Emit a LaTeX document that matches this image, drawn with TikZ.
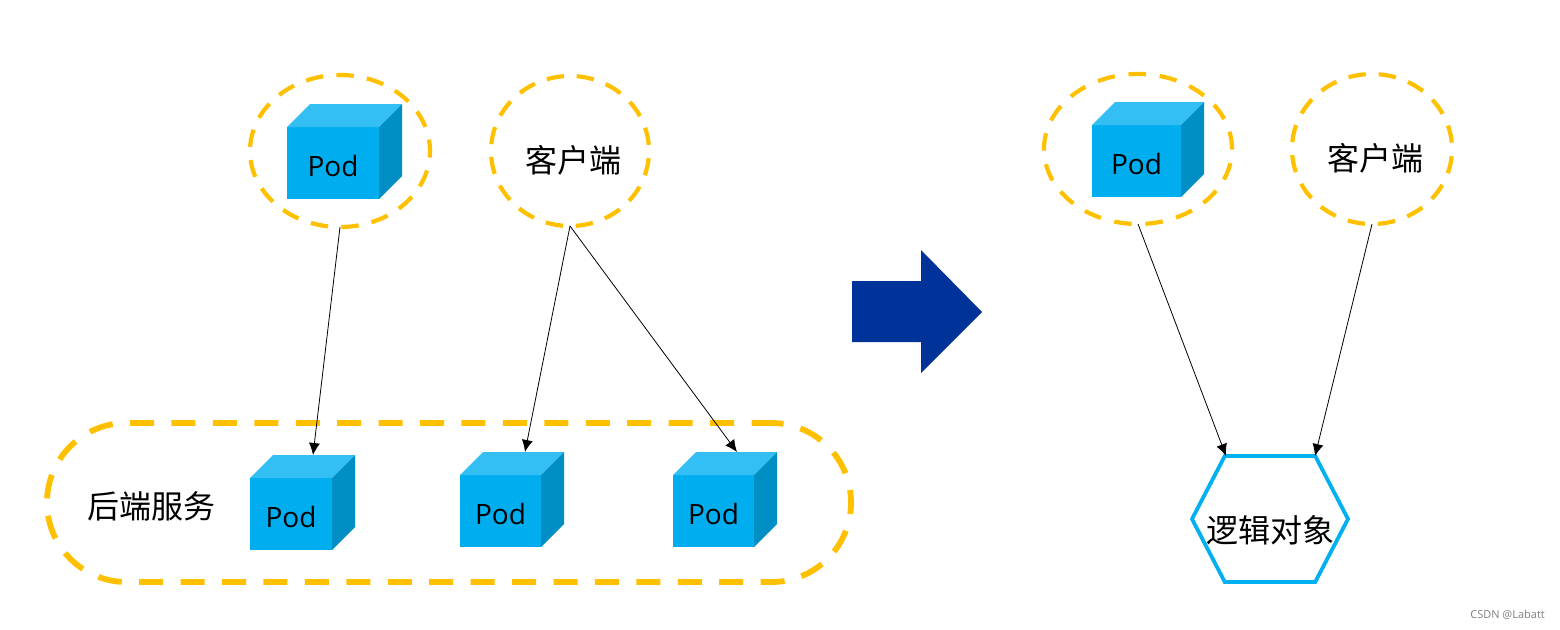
\documentclass[tikz,border=0pt]{standalone}
\usepackage{fontspec}
\setmainfont{Open Sans}
\newfontfamily\cjk{Noto Sans CJK SC}
\usetikzlibrary{arrows.meta,shapes.geometric,shapes.symbols}

\definecolor{podfront}{HTML}{00AEEF}
\definecolor{podtop}{HTML}{33BEF4}
\definecolor{podside}{HTML}{008FC4}
\definecolor{ringcol}{HTML}{FFC000}
\definecolor{bigarrow}{HTML}{003399}
\definecolor{hexcol}{HTML}{00B0F0}

\begin{document}
\begin{tikzpicture}[
    x=1pt, y=-1pt,
    pod/.style={fill=podfront, inner sep=0pt, outer sep=0pt, text height=28pt, font=\fontsize{28}{28}\selectfont},
    ring/.style 2 args={draw=ringcol, ellipse, line width=4.2pt, dash pattern=on 17.5pt off #1pt, dash phase=#2pt, inner sep=0pt, outer sep=0pt},
    band/.style={draw=ringcol, rounded corners=79.5pt, line width=5.8pt, dash pattern=on 24pt off 17.43pt, dash phase=4pt, inner sep=0pt, outer sep=0pt, minimum width=804pt, minimum height=159pt},
    hexa/.style={draw=hexcol, signal, signal from=nowhere, signal to=east and west, signal pointer angle=125, line width=3.8pt, inner sep=0pt, outer sep=0pt, minimum width=156pt, minimum height=126pt},
    zh/.style={font=\cjk\fontsize{32}{32}\selectfont, inner sep=0pt},
    arr/.style={-{Latex[length=12pt,width=11pt]}, line width=0.8pt}
  ]
    \useasboundingbox (0,0) rectangle (1560,629);

    % outer band
    \node[band] (backend) at (449,502.5) {};
    \node[zh] (backendtext) at (151,506) {后端服务};

    % cubes: name/centre x/centre y/width/height
    \foreach \name/\x/\y/\w/\h in {podclient/333/163/92/72, poda/291/514/82/72, podb/500.5/511/81/72, podc/713.5/511/81/72, podright/1136.5/161/89/72} {
      \node[pod, minimum width=\w pt, minimum height=\h pt] (\name) at (\x,\y) {Pod};
      \fill[podtop] (\name.north west) -- ++(23,-23) -- ++(\w,0) -- (\name.north east) -- cycle;
      \fill[podside] (\name.north east) -- ++(23,-23) -- ++(0,\h) -- (\name.south east) -- cycle;
    }

    % dashed rings
    \node[ring={13.2}{6}, minimum width=180pt, minimum height=152pt] (ringa) at (340,151) {};
    \node[ring={12.7}{24}, minimum width=158pt, minimum height=150pt] (ringb) at (570,151) {};
    \node[ring={13.8}{0}, minimum width=188pt, minimum height=150pt] (ringc) at (1138,149) {};
    \node[ring={12.9}{24}, minimum width=160pt, minimum height=150pt] (ringd) at (1372,149) {};
    \node[zh] (clienta) at (573,160) {客户端};
    \node[zh] (clientb) at (1375,158) {客户端};

    % big arrow in the middle
    \fill[bigarrow] (852,281) -- (921,281) -- (921,250) -- (982,312) -- (921,373) -- (921,342) -- (852,342) -- cycle;

    % logical object
    \node[hexa] (logic) at (1270,519) {};
    \node[zh] (logictext) at (1270,530) {逻辑对象};

    \coordinate (podain) at (313,455);
    \coordinate (podbin) at (525,452);
    \coordinate (podcin) at (737,452);
    \coordinate (logicl) at (1226,456);
    \coordinate (logicr) at (1315,456);

    \draw[arr] (ringa.south) -- (podain);
    \draw[arr] (ringb.south) -- (podbin);
    \draw[arr] (ringb.south) -- (podcin);
    \draw[arr] (ringc.south) -- (logicl);
    \draw[arr] (ringd.south) -- (logicr);

    \node[text=gray, font=\fontsize{11}{11}\selectfont, anchor=east, inner sep=0pt] (mark) at (1545,615) {CSDN @Labatt};
  \end{tikzpicture}
\end{document}
